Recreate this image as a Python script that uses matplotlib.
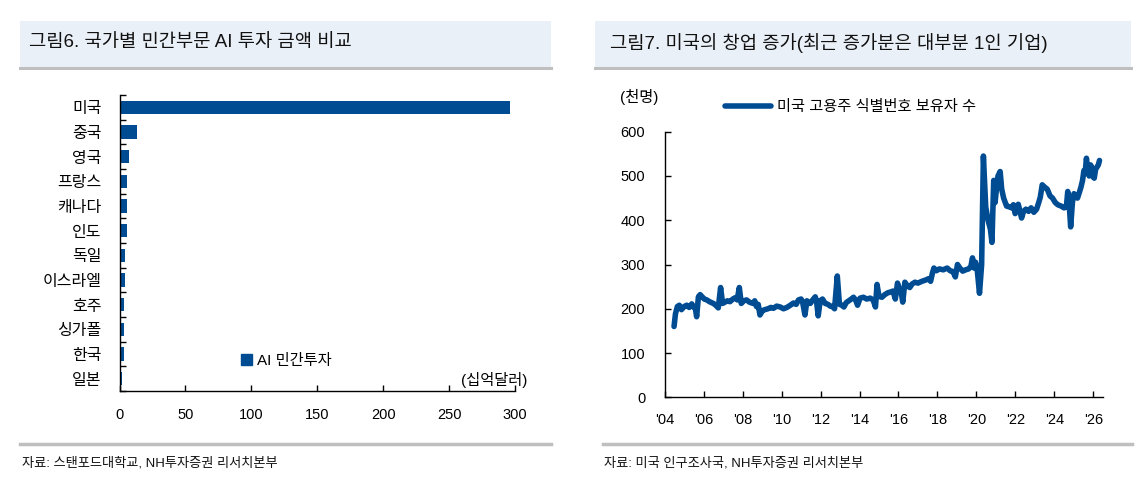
import matplotlib
matplotlib.use("Agg")
import matplotlib.pyplot as plt
from matplotlib.patches import Rectangle, Patch
from matplotlib.lines import Line2D

plt.rcParams['font.family'] = ['Liberation Sans', 'Noto Sans CJK KR', 'DejaVu Sans']

# ---------------- data ----------------
countries = ['미국', '중국', '영국', '프랑스', '캐나다', '인도', '독일', '이스라엘', '호주', '싱가폴', '한국', '일본']
ai_invest = [296, 13, 7, 6, 6, 6, 4.4, 4.4, 3.5, 3.5, 3.5, 2.2]
x_ticks_left = [0, 50, 100, 150, 200, 250, 300]

years = [2004.48, 2004.55, 2004.65, 2004.75, 2004.86, 2005.00, 2005.13, 2005.26, 2005.39, 2005.47,
         2005.56, 2005.64, 2005.73, 2005.82, 2005.90, 2006.03, 2006.16, 2006.30, 2006.50, 2006.62,
         2006.75, 2006.87, 2006.97, 2007.10, 2007.22, 2007.35, 2007.50, 2007.62, 2007.72, 2007.83,
         2007.93, 2008.06, 2008.20, 2008.35, 2008.54, 2008.62, 2008.71, 2008.80, 2008.89, 2009.02,
         2009.14, 2009.30, 2009.45, 2009.58, 2009.75, 2009.93, 2010.10, 2010.27, 2010.45, 2010.61,
         2010.75, 2010.87, 2011.00, 2011.08, 2011.20, 2011.30, 2011.47, 2011.60, 2011.73, 2011.80,
         2011.88, 2011.98, 2012.10, 2012.24, 2012.38, 2012.50, 2012.62, 2012.72, 2012.86, 2012.97,
         2013.10, 2013.20, 2013.32, 2013.45, 2013.58, 2013.69, 2013.80, 2013.90, 2014.03, 2014.20,
         2014.37, 2014.55, 2014.70, 2014.82, 2014.90, 2015.00, 2015.15, 2015.30, 2015.45, 2015.60,
         2015.72, 2015.84, 2015.95, 2016.05, 2016.14, 2016.22, 2016.33, 2016.45, 2016.58, 2016.70,
         2016.85, 2017.00, 2017.20, 2017.40, 2017.55, 2017.65, 2017.74, 2017.82, 2017.95, 2018.10,
         2018.30, 2018.50, 2018.65, 2018.80, 2018.92, 2019.03, 2019.15, 2019.30, 2019.45, 2019.60,
         2019.72, 2019.80, 2019.88, 2019.96, 2020.05, 2020.16, 2020.27, 2020.36, 2020.48, 2020.60,
         2020.72, 2020.80, 2020.89, 2020.96, 2021.05, 2021.11, 2021.22, 2021.30, 2021.40, 2021.55,
         2021.70, 2021.81, 2021.90, 2021.99, 2022.08, 2022.15, 2022.24, 2022.32, 2022.42, 2022.54,
         2022.68, 2022.81, 2022.95, 2023.09, 2023.20, 2023.28, 2023.38, 2023.50, 2023.64, 2023.78,
         2023.91, 2024.05, 2024.18, 2024.35, 2024.50, 2024.62, 2024.69, 2024.76, 2024.84, 2024.93,
         2025.01, 2025.10, 2025.19, 2025.28, 2025.37, 2025.45, 2025.52, 2025.58, 2025.65, 2025.72,
         2025.79, 2025.86, 2025.92, 2025.99, 2026.05, 2026.12, 2026.19, 2026.26, 2026.32]
holders = [160, 188, 205, 208, 198, 205, 208, 203, 211, 204,
           205, 182, 227, 232, 228, 222, 220, 216, 212, 208,
           202, 248, 212, 215, 218, 216, 222, 225, 220, 248,
           212, 218, 220, 215, 212, 218, 205, 210, 186, 196,
           198, 200, 203, 201, 206, 204, 200, 203, 208, 213,
           210, 220, 222, 215, 186, 218, 212, 220, 227, 215,
           184, 218, 222, 212, 210, 206, 205, 200, 274, 210,
           208, 204, 214, 218, 222, 226, 220, 208, 224, 226,
           222, 224, 220, 204, 255, 228, 226, 232, 236, 238,
           240, 222, 258, 245, 238, 215, 260, 252, 248, 256,
           260, 258, 262, 265, 268, 262, 280, 292, 286, 290,
           288, 292, 286, 284, 272, 300, 292, 285, 288, 290,
           296, 315, 292, 305, 285, 235, 300, 545, 430, 400,
           380, 350, 490, 440, 480, 500, 510, 470, 450, 432,
           430, 428, 435, 415, 430, 436, 420, 405, 420, 425,
           420, 428, 418, 425, 440, 452, 480, 475, 470, 455,
           450, 440, 435, 432, 428, 430, 465, 440, 385, 440,
           460, 455, 450, 462, 475, 490, 512, 505, 540, 510,
           500, 525, 520, 498, 495, 515, 520, 525, 535]
x_ticks_right = [2004, 2006, 2008, 2010, 2012, 2014, 2016, 2018, 2020, 2022, 2024, 2026]
x_ticklabels_right = ["'04", "'06", "'08", "'10", "'12", "'14", "'16", "'18", "'20", "'22", "'24", "'26"]
y_ticks_right = [0, 100, 200, 300, 400, 500, 600]

# ---------------- layout ----------------
W, H = 1147, 491
BLUE = '#004C93'
GRAY = '#BFBFBF'
TBOX = '#EAF0F8'

def fx(x):
    return x / W

def fy(y):
    return 1 - y / H

fig = plt.figure(figsize=(W / 100, H / 100), dpi=100)

# title boxes
for (x0, x1) in [(20, 551), (595, 1131)]:
    fig.patches.append(Rectangle((fx(x0), fy(68)), fx(x1) - fx(x0), fy(21) - fy(68),
                                 transform=fig.transFigure, facecolor=TBOX, edgecolor='none', zorder=0))
    fig.add_artist(Line2D([fx(x0), fx(x1)], [fy(68), fy(68)], transform=fig.transFigure,
                          color=GRAY, lw=2.2))
fig.text(fx(29), fy(43), '그림6. 국가별 민간부문 AI 투자 금액 비교', fontsize=13.5,
         va='center', ha='left', color='#111111')
fig.text(fx(610), fy(43), '그림7. 미국의 창업 증가(최근 증가분은 대부분 1인 기업)', fontsize=13.5,
         va='center', ha='left', color='#111111')

# footer lines and sources
for (x0, x1) in [(20, 551), (603, 1132)]:
    fig.add_artist(Line2D([fx(x0), fx(x1)], [fy(444), fy(444)], transform=fig.transFigure,
                          color=GRAY, lw=2.5))
fig.text(fx(22), fy(463), '자료: 스탠포드대학교, NH투자증권 리서치본부', fontsize=9.5,
         va='center', ha='left', color='#111111')
fig.text(fx(604), fy(463), '자료: 미국 인구조사국, NH투자증권 리서치본부', fontsize=9.5,
         va='center', ha='left', color='#111111')

# ---------------- left chart ----------------
axL = fig.add_axes([fx(119.5), fy(391), fx(515) - fx(119.5), fy(95) - fy(391)])
pos = list(range(len(countries)))
axL.barh(pos, ai_invest, height=0.55, color=BLUE, label='AI 민간투자')
axL.set_xlim(0, 300)
axL.set_ylim(len(countries) - 0.5, -0.5)
axL.set_xticks(x_ticks_left)
axL.set_xticklabels([str(v) for v in x_ticks_left], fontsize=10.5)
axL.set_yticks([p - 0.5 for p in pos] + [len(countries) - 0.5])
axL.set_yticklabels([])
axL.set_yticks(pos, minor=True)
axL.set_yticklabels(countries, minor=True, fontsize=11.5)
axL.tick_params(axis='y', which='minor', length=0, pad=13)
axL.tick_params(axis='y', which='major', direction='in', length=4, width=1)
axL.tick_params(axis='x', direction='in', length=4, width=1, pad=12)
for s in ['top', 'right']:
    axL.spines[s].set_visible(False)
for s in ['left', 'bottom']:
    axL.spines[s].set_linewidth(1)
axL.legend(handles=[Patch(color=BLUE, label='AI 민간투자')], loc='center left',
           bbox_to_anchor=(fx(241), fy(361)), bbox_transform=fig.transFigure,
           frameon=False, fontsize=11, borderpad=0, borderaxespad=0,
           handlelength=0.75, handleheight=0.75, handletextpad=0.3)
fig.text(fx(527), fy(380), '(십억달러)', fontsize=11, ha='right', va='center')

# ---------------- right chart ----------------
axR = fig.add_axes([fx(664.7), fy(397.3), fx(1103) - fx(664.7), fy(131.7) - fy(397.3)])
axR.plot(years, holders, color=BLUE, lw=4, solid_joinstyle='round', solid_capstyle='round',
         label='미국 고용주 식별번호 보유자 수')
axR.set_xlim(2004, 2026.5)
axR.set_ylim(0, 600)
axR.set_xticks(x_ticks_right)
axR.set_xticklabels(x_ticklabels_right, fontsize=10.5)
axR.set_yticks(y_ticks_right)
axR.set_yticklabels([str(v) for v in y_ticks_right], fontsize=10.5)
axR.tick_params(axis='both', direction='in', length=4, width=1)
axR.tick_params(axis='x', pad=11)
axR.tick_params(axis='y', pad=14)
for s in ['top', 'right']:
    axR.spines[s].set_visible(False)
for s in ['left', 'bottom']:
    axR.spines[s].set_linewidth(1)
axR.legend(loc='center left', bbox_to_anchor=(fx(725), fy(107.3)), bbox_transform=fig.transFigure,
           frameon=False, fontsize=11, borderpad=0, borderaxespad=0,
           handlelength=3.0, handletextpad=0.4)
fig.text(fx(620), fy(97), '(천명)', fontsize=11, ha='left', va='center')

fig.savefig('out.png', dpi=100)
